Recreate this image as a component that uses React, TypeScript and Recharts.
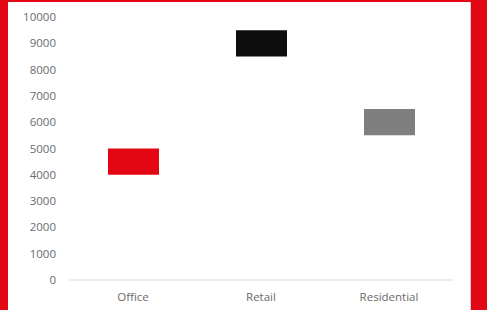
import { Bar, BarChart, Cell, XAxis, YAxis } from 'recharts';

const categories = ['Office', 'Retail', 'Residential'];
const lowValues = [4000, 8500, 5500];
const highValues = [5000, 9500, 6500];
const barColors = ['#e30613', '#0d0d0d', '#7f7f7f'];
const yTicks = [0, 1000, 2000, 3000, 4000, 5000, 6000, 7000, 8000, 9000, 10000];

const data = categories.map((name, i) => ({
  name,
  base: lowValues[i],
  span: highValues[i] - lowValues[i],
}));

const tickStyle = { fill: '#6b6b6b', fontSize: 11.5, fontFamily: 'Open Sans' };

export default function App() {
  return (
    <div
      style={{
        position: 'absolute',
        top: 0,
        left: 0,
        width: 487,
        height: 310,
        background: '#e30613',
        overflow: 'hidden',
      }}
    >
      <div
        style={{
          position: 'absolute',
          left: 8,
          top: 2,
          width: 463,
          height: 308,
          background: '#ffffff',
          borderRight: '1px solid #d0d0d0',
          boxSizing: 'border-box',
        }}
      >
        <BarChart
          width={463}
          height={308}
          data={data}
          barSize={51}
          margin={{ top: 15, right: 18, bottom: 0, left: 11 }}
        >
          <XAxis
            dataKey="name"
            height={30}
            tickLine={false}
            tickSize={0}
            tickMargin={13}
            axisLine={{ stroke: '#d9d9d9' }}
            tick={tickStyle}
          />
          <YAxis
            width={50}
            domain={[0, 10000]}
            ticks={yTicks}
            interval={0}
            axisLine={false}
            tickLine={false}
            tickSize={0}
            tickMargin={13}
            tick={tickStyle}
          />
          <Bar dataKey="base" stackId="a" fill="transparent" isAnimationActive={false} />
          <Bar dataKey="span" stackId="a" isAnimationActive={false}>
            {data.map((_, index) => (
              <Cell key={`cell-${index}`} fill={barColors[index]} />
            ))}
          </Bar>
        </BarChart>
      </div>
    </div>
  );
}
